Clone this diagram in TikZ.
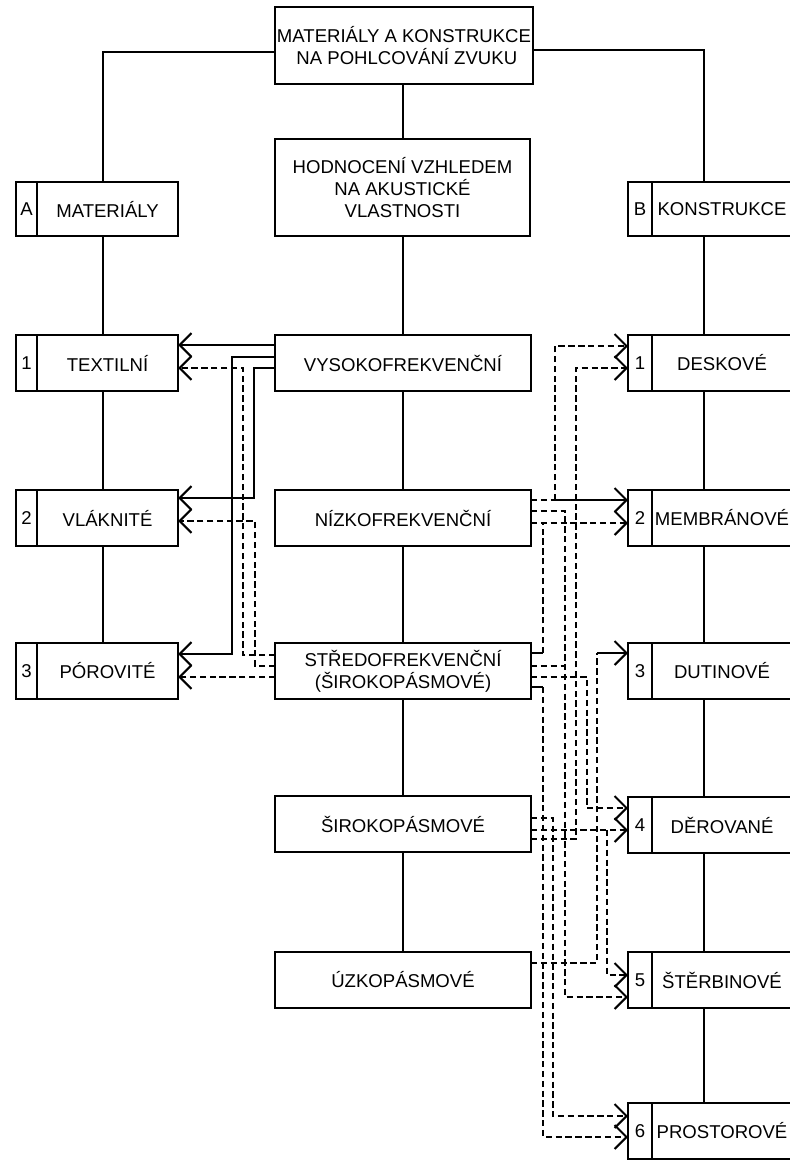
\documentclass[tikz,border=0pt]{standalone}
\usepackage{fontspec}
\setmainfont{Liberation Sans}
\usepackage{tikz}
\usetikzlibrary{arrows.meta, positioning}

\begin{document}
\begin{tikzpicture}[x=0.025cm, y=-0.025cm,
    every node/.style={font=\fontsize{13.2}{15.5}\selectfont},
    box/.style={draw, line width=1.3pt, fill=white, outer sep=0pt, inner sep=2pt, align=center},
    midbox/.style={box, minimum width=6.4cm, minimum height=1.4cm},
    numcell/.style={box, minimum width=0.525cm, minimum height=1.4cm},
    lblcell/.style={box, minimum width=3.525cm, minimum height=1.4cm},
    rnumcell/.style={box, minimum width=0.6cm, minimum height=1.4cm},
    rlblcell/.style={box, minimum width=3.5cm, minimum height=1.4cm},
    tree/.style={line width=1.1pt},
    fulllink/.style={line width=1.1pt},
    dashlink/.style={line width=0.8pt, dash pattern=on 4.5pt off 2.5pt},
    arr/.style={-{Straight Barb[length=8.5pt,width=17pt,line width=1.5pt]}}]
    \useasboundingbox (0,0) rectangle (790,1160);

    % Top
    \node[box, inner xsep=0pt, minimum width=6.45cm, minimum height=1.925cm] (top) at (404,45.5) {MATERIÁLY A KONSTRUKCE\\\hspace*{4pt}NA POHLCOVÁNÍ ZVUKU};
    \node[box, minimum width=6.375cm, minimum height=2.425cm] (hod) at (402.5,187.5) {HODNOCENÍ VZHLEDEM\\NA AKUSTICKÉ\\VLASTNOSTI};
    \node[numcell, minimum height=1.35cm] (acel) at (26.5,209) {A};
    \node[lblcell, minimum height=1.35cm, right=0pt of acel] (alab) {MATERIÁLY};
    \node[rnumcell, minimum height=1.35cm] (bcel) at (640,209) {B};
    \node[rlblcell, minimum height=1.35cm, right=0pt of bcel] (blab) {KONSTRUKCE};

    % Materials
    \node[numcell] (texn) at (26.5,363) {1};
    \node[lblcell, right=0pt of texn] (tex) {TEXTILNÍ};
    \node[numcell] (vlan) at (26.5,518) {2};
    \node[lblcell, right=0pt of vlan] (vla) {VLÁKNITÉ};
    \node[numcell] (porn) at (26.5,671) {3};
    \node[lblcell, right=0pt of porn] (por) {PÓROVITÉ};

    % Frequency
    \node[midbox] (vys) at (403,363) {VYSOKOFREKVENČNÍ};
    \node[midbox] (niz) at (403,518) {NÍZKOFREKVENČNÍ};
    \node[midbox] (str) at (403,671) {STŘEDOFREKVENČNÍ\\(ŠIROKOPÁSMOVÉ)};
    \node[midbox] (sir) at (403,824) {ŠIROKOPÁSMOVÉ};
    \node[midbox] (uzk) at (403,980) {ÚZKOPÁSMOVÉ};

    % Constructions
    \node[rnumcell] (desn) at (640,363) {1};
    \node[rlblcell, right=0pt of desn] (des) {DESKOVÉ};
    \node[rnumcell] (memn) at (640,518) {2};
    \node[rlblcell, right=0pt of memn] (mem) {MEMBRÁNOVÉ};
    \node[rnumcell] (dutn) at (640,671) {3};
    \node[rlblcell, right=0pt of dutn] (dut) {DUTINOVÉ};
    \node[rnumcell] (dern) at (640,825) {4};
    \node[rlblcell, right=0pt of dern] (der) {DĚROVANÉ};
    \node[rnumcell] (sten) at (640,980) {5};
    \node[rlblcell, right=0pt of sten] (ste) {ŠTĚRBINOVÉ};
    \node[rnumcell] (pron) at (640,1131) {6};
    \node[rlblcell, right=0pt of pron] (pro) {PROSTOROVÉ};

    % Tree lines
    \draw[tree] (top.west |- 0,52) -| (alab.north -| 103,0);
    \draw[tree] (top.east |- 0,50) -| (blab.north -| 704,0);
    \draw[tree] (top.south -| 403,0) -- (hod.north -| 403,0);
    \foreach \a/\b in {hod/vys, vys/niz, niz/str, str/sir, sir/uzk}
        \draw[tree] (\a.south -| 403,0) -- (\b.north -| 403,0);
    \foreach \a/\b in {alab/tex, tex/vla, vla/por}
        \draw[tree] (\a.south -| 103,0) -- (\b.north -| 103,0);
    \foreach \a/\b in {blab/des, des/mem, mem/dut, dut/der, der/ste, ste/pro}
        \draw[tree] (\a.south -| 704,0) -- (\b.north -| 704,0);

    % Links to materials
    \draw[fulllink, arr] (vys.west |- 0,345) -- (tex.east |- 0,345);
    \draw[fulllink, arr] (vys.west |- 0,357) -| (232,654) -- (por.east |- 0,654);
    \draw[fulllink, arr] (vys.west |- 0,368) -| (254,498) -- (vla.east |- 0,498);
    \draw[dashlink, arr] (str.west |- 0,655) -| (243,368) -- (tex.east |- 0,368);
    \draw[dashlink, arr] (str.west |- 0,666) -| (255,521) -- (vla.east |- 0,521);
    \draw[dashlink, arr] (str.west |- 0,677) -- (por.east |- 0,677);

    % Links to constructions
    \coordinate (j1) at (555,500);
    \coordinate (s1) at (543,653);
    \coordinate (s2) at (543,687);
    \coordinate (j2) at (607,830);
    \coordinate (j3) at (597,653);
    \draw[dashlink] (niz.east |- 0,500) -- (j1);
    \draw[dashlink, arr] (j1) |- (desn.west |- 0,346);
    \draw[fulllink, arr] (j1) -- (memn.west |- 0,500);
    \draw[dashlink, arr] (niz.east |- 0,523) -- (memn.west |- 0,523);
    \draw[fulllink] (str.east |- 0,653) -- (s1);
    \draw[dashlink] (s1) -- (543,523);
    \draw[dashlink, arr] (niz.east |- 0,511) -| (565,997) -- (sten.west |- 0,997);
    \draw[dashlink] (str.east |- 0,666) -- (565,666);
    \draw[dashlink, arr] (str.east |- 0,677) -| (587,808) -- (dern.west |- 0,808);
    \draw[fulllink] (str.east |- 0,687) -- (s2);
    \draw[dashlink, arr] (s2) |- (pron.west |- 0,1137);
    \draw[dashlink, arr] (sir.east |- 0,818) -| (553,1116) -- (pron.west |- 0,1116);
    \draw[dashlink, arr] (sir.east |- 0,830) -- (dern.west |- 0,830);
    \draw[dashlink, arr] (j2) |- (sten.west |- 0,975);
    \draw[dashlink, arr] (sir.east |- 0,839) -| (576,368) -- (desn.west |- 0,368);
    \draw[dashlink] (uzk.east |- 0,963) -| (j3);
    \draw[fulllink, arr] (j3) -- (dutn.west |- 0,653);
\end{tikzpicture}
\end{document}
